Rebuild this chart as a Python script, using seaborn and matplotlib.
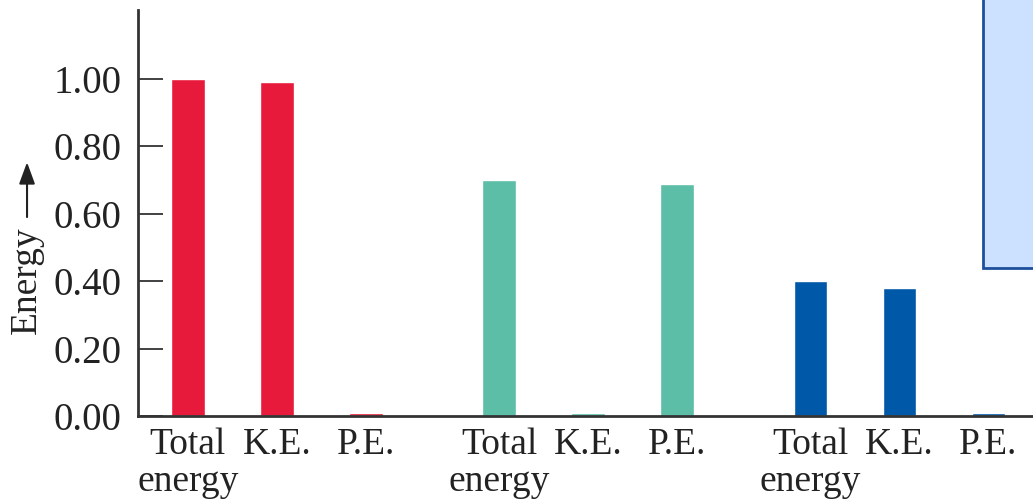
import matplotlib
matplotlib.use("Agg")
import matplotlib.pyplot as plt
import matplotlib.patches as mpatches
import seaborn as sns
import pandas as pd

# ---- data ----
components = ["Total\nenergy", "K.E.", "P.E."]
series_names = ["first", "second", "third"]
red_values = [1.00, 0.99, 0.01]
teal_values = [0.70, 0.01, 0.69]
blue_values = [0.40, 0.38, 0.01]
y_ticks = [0.00, 0.20, 0.40, 0.60, 0.80, 1.00]
y_label = "Energy"

colors = {"first": "#E81A3B", "second": "#5CBEA7", "third": "#0058A8"}

# ---- build table ----
group_gap = 1.5
rows = []
for gi, (name, vals) in enumerate(zip(series_names, [red_values, teal_values, blue_values])):
    for ci, (comp, v) in enumerate(zip(components, vals)):
        rows.append({"pos": gi * (len(components) + group_gap - 1) + ci,
                     "label": comp, "series": name, "value": v})
df = pd.DataFrame(rows)

sns.set_style("ticks")
plt.rcParams["font.family"] = ["Liberation Serif", "DejaVu Serif", "DejaVu Sans"]

fig = plt.figure(figsize=(10.33, 4.99), dpi=100)
ax = fig.add_axes([0.1336, 0.1663, 0.8664, 0.8137])

sns.barplot(data=df, x="pos", y="value", hue="series", palette=colors,
            native_scale=True, width=0.38, dodge=False, legend=False,
            saturation=1, ax=ax)

ax.set_xlim(-0.56, 9.5)
ax.set_ylim(0, 1.205)
ax.set_yticks(y_ticks)
ax.set_yticklabels([f"{t:.2f}" for t in y_ticks], fontsize=28, color="#222222")
ax.set_xticks(df["pos"].tolist())
ax.set_xticklabels(df["label"].tolist(), fontsize=27, color="#222222",
                   linespacing=1.12)
ax.tick_params(axis="y", direction="in", length=18, width=1.3, pad=12, color="#333333")
ax.tick_params(axis="x", length=0, pad=8)
ax.set_xlabel("")
ax.set_ylabel(y_label, fontsize=27, color="#222222")
ax.yaxis.set_label_coords(-0.105, 0.335)
ax.annotate("", xy=(-0.124, 0.625), xytext=(-0.124, 0.49),
            xycoords="axes fraction", annotation_clip=False,
            arrowprops=dict(arrowstyle="-|>,head_length=0.6,head_width=0.22",
                            color="#222222", lw=1.5,
                            mutation_scale=22, shrinkA=0, shrinkB=0))

for side in ["top", "right"]:
    ax.spines[side].set_visible(False)
for side in ["left", "bottom"]:
    ax.spines[side].set_linewidth(2)
    ax.spines[side].set_color("#333333")

# light blue box at upper right
box = mpatches.Rectangle((0.9516, 0.463), 0.1, 0.6, transform=fig.transFigure,
                         facecolor="#CCE0FF", edgecolor="#1E4F9C", linewidth=2,
                         zorder=10)
fig.patches.append(box)

fig.savefig("out.png", dpi=100)
